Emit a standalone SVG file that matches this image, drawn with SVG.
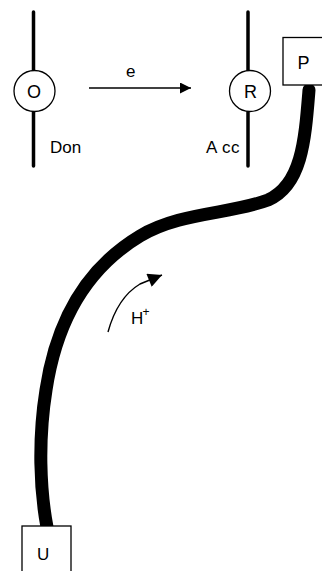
<svg xmlns="http://www.w3.org/2000/svg" width="322" height="571" viewBox="0 0 322 571">
<style>
text{font-family:"Liberation Sans",Arial,sans-serif;fill:#000}
.rail{stroke:#000;stroke-width:3.5;stroke-linecap:round}
.ring{fill:#fff;stroke:#000;stroke-width:1.3}
.box{fill:#fff;stroke:#000;stroke-width:1.3}
</style>
<defs>
<marker id="ah" viewBox="0 0 10 10" refX="10" refY="5" markerWidth="19" markerHeight="11" markerUnits="userSpaceOnUse" orient="auto">
<path d="M0,0 L10,5 L0,10 z" fill="#000"/>
</marker>
<marker id="ah2" viewBox="0 0 10 10" refX="10" refY="5" markerWidth="19" markerHeight="14" markerUnits="userSpaceOnUse" orient="auto">
<path d="M0,0 L10,5 L0,10 z" fill="#000"/>
</marker>
</defs>
<g id="connectors">
<path d="M309,90 C305,140 302,185 268,200 C232,214 180,212 140,236 C80,272 55,330 46,390 C38,440 40,490 47,527" fill="none" stroke="#000" stroke-width="13" stroke-linecap="round"/>
<line x1="89" y1="88" x2="191" y2="88" stroke="#000" stroke-width="1.5" marker-end="url(#ah)"/>
<path d="M108,332 C114,310 125,293 140,284 L162,275" fill="none" stroke="#000" stroke-width="1.4" marker-end="url(#ah2)"/>
</g>
<g id="donor">
<line class="rail" x1="33.5" y1="12" x2="33.5" y2="166"/>
<circle class="ring" cx="34.5" cy="91" r="20.5"/>
<text x="34" y="97.5" font-size="18" text-anchor="middle">O</text>
<text x="50" y="153" font-size="17">Don</text>
</g>
<g id="acceptor">
<line class="rail" x1="248" y1="12" x2="248" y2="166"/>
<circle class="ring" cx="250" cy="91" r="20.5"/>
<text x="250.5" y="97.5" font-size="18" text-anchor="middle">R</text>
<text y="153" font-size="17"><tspan x="206">A</tspan><tspan x="222" letter-spacing="0.5">cc</tspan></text>
</g>
<g id="e-label">
<text x="126" y="77" font-size="17">e</text>
</g>
<g id="hplus">
<text x="131" y="324" font-size="17">H</text>
<text x="142.5" y="316" font-size="12">+</text>
</g>
<g id="P">
<rect class="box" x="283" y="37.5" width="45" height="47.5"/>
<text x="297.5" y="69" font-size="18">P</text>
</g>
<g id="U">
<rect class="box" x="22" y="526" width="49" height="50"/>
<text x="37" y="560" font-size="17">U</text>
</g>
</svg>
